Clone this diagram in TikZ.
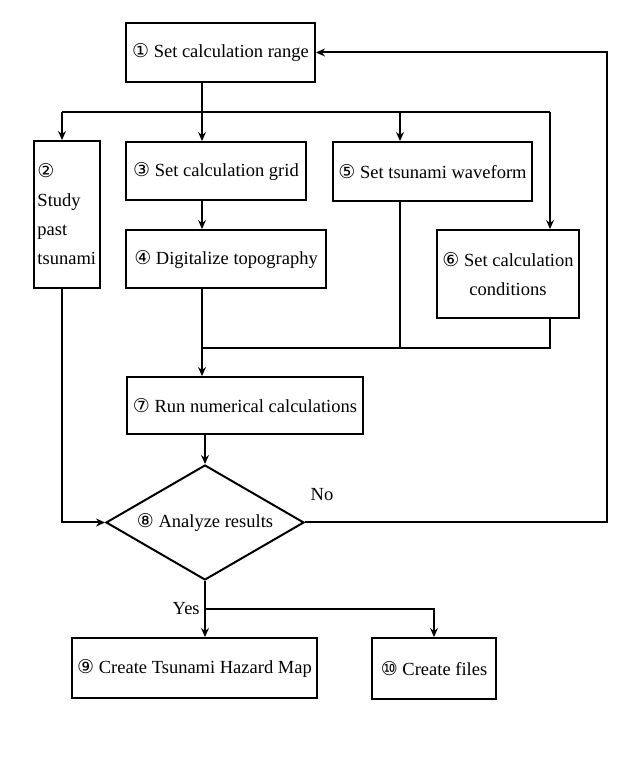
\documentclass[tikz,border=0pt]{standalone}
\usepackage{fontspec}
\setmainfont{Liberation Serif}
\newfontfamily\circfont{DejaVu Sans}
\usetikzlibrary{shapes.geometric,arrows.meta}
\newcommand{\cnum}[1]{{\circfont\fontsize{19}{19}\selectfont #1}}

\begin{document}
\begin{tikzpicture}[x=1pt,y=1pt,line width=2pt,
  >={Stealth[length=9pt,width=8pt,inset=3pt]},
  font=\fontsize{18.5}{29}\selectfont,
  stepbox/.style={draw,rectangle,inner sep=0pt,align=center},
  decision/.style={draw,diamond,aspect=1.7,inner sep=0pt,minimum width=198pt,minimum height=115pt}]
\useasboundingbox (0,0) rectangle (640,772);
% process boxes
\node[stepbox,minimum width=189pt,minimum height=59pt] (range) at (220.5,719.5) {\cnum{①} Set calculation range};
\node[stepbox,align=left,text width=58pt,inner xsep=4pt,minimum height=147pt] (past) at (66.5,557.5) {\cnum{②}\\Study\\past\\tsunami};
\node[stepbox,minimum width=180pt,minimum height=58pt] (grid) at (216,601) {\cnum{③} Set calculation grid};
\node[stepbox,minimum width=200pt,minimum height=58pt] (topo) at (226,513) {\cnum{④} Digitalize topography};
\node[stepbox,minimum width=199pt,minimum height=59pt] (wave) at (432.5,600.5) {\cnum{⑤} Set tsunami waveform};
\node[stepbox,minimum width=142pt,minimum height=88pt] (cond) at (508,498) {\cnum{⑥} Set calculation\\conditions};
\node[stepbox,minimum width=236pt,minimum height=57pt] (run) at (245,366.5) {\cnum{⑦} Run numerical calculations};
\node[decision] (analyze) at (205,249.5) {\cnum{⑧} Analyze results};
\node[stepbox,minimum width=245pt,minimum height=60pt] (hazmap) at (194.5,104) {\cnum{⑨} Create Tsunami Hazard Map};
\node[stepbox,minimum width=124pt,minimum height=61pt] (files) at (434,103.5) {\cnum{⑩} Create files};

% branch points
\coordinate (busL) at (62,660);
\coordinate (busM) at (202,660);
\coordinate (busW) at (400,660);
\coordinate (busR) at (550,660);
\coordinate (joinL) at (202,424);
\coordinate (joinW) at (400,424);
\coordinate (joinR) at (550,424);
\coordinate (loop) at (607,249.5);
\coordinate (split) at (205,163);

% connectors
\draw (range.south -| busM) -- (busM);
\draw (busL) -- (busR);
\draw[->] (busL) -- (busL |- past.north);
\draw[->] (busM) -- (busM |- grid.north);
\draw[->] (busW) -- (busW |- wave.north);
\draw[->] (busR) -- (busR |- cond.north);
\draw[->] (grid.south -| busM) -- (topo.north -| busM);
\draw (topo.south -| joinL) -- (joinL);
\draw (wave.south -| joinW) -- (joinW);
\draw (cond.south -| joinR) -- (joinR) -- (joinL);
\draw[->] (joinL) -- (run.north -| joinL);
\draw[->] (run.south -| analyze.north) -- (analyze.north);
\draw[->] (past.south -| busL) |- (analyze.west);
\draw[->] (analyze.east) -- (loop) |- (range.east);
\draw[->] (analyze.south) -- (hazmap.north -| analyze.south);
\draw[->] (split) -| (files.north);
\node (no) at (322,277) {No};
\node[left=1pt] (yes) at (split) {Yes};
\end{tikzpicture}
\end{document}
